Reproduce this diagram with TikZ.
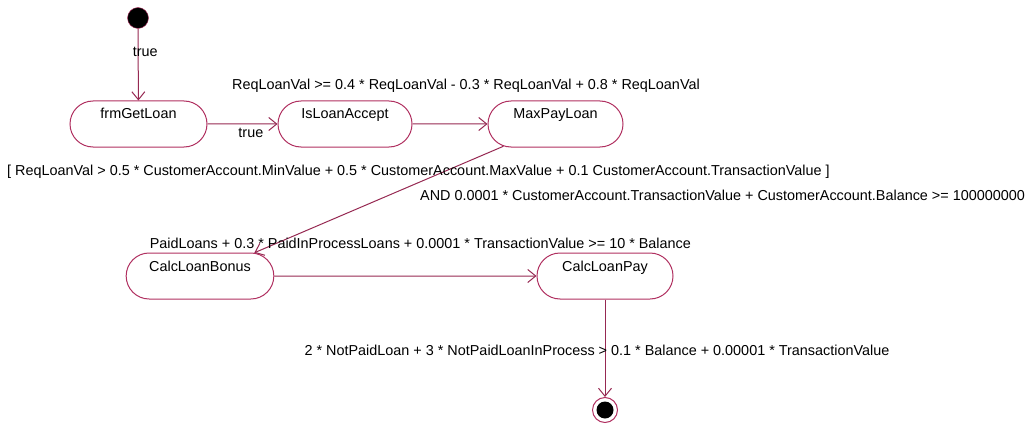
\documentclass[tikz,border=0pt]{standalone}
\usepackage{fontspec}
\setmainfont{Liberation Sans}
\usetikzlibrary{arrows.meta,shapes.misc}

\definecolor{umlred}{RGB}{176,48,96}

\begin{document}
\begin{tikzpicture}[x=1pt,y=-1pt,font=\fontsize{14.4}{16}\selectfont,
  state/.style={rounded rectangle,draw=umlred,line width=1pt,minimum width=#1,minimum height=46pt,inner sep=0pt,text height=18pt,text depth=28pt},
  flow/.style={draw=umlred!85!black,line width=1pt,-{Straight Barb[length=8pt,width=13pt]}},
  guard/.style={inner sep=0pt}]

  \useasboundingbox (0,0) rectangle (1027,425);

  % start and end points
  \node(init)[circle,draw=umlred,fill=black,minimum size=21pt,inner sep=0pt] at (138,18) {};
  \node(final)[circle,draw=umlred,line width=1pt,minimum size=25pt,inner sep=0pt,
    path picture={\fill[black] (path picture bounding box.center) circle (8.5pt);}] at (605,410) {};

  % activity states
  \node(getloan)[state=137pt] at (138.5,124) {frmGetLoan};
  \node(accept) [state=134pt] at (345,124)   {IsLoanAccept};
  \node(maxpay) [state=135pt] at (555.5,124) {MaxPayLoan};
  \node(bonus)  [state=130pt] at (200,276)   {CalcLoanBonus};
  \node(pay)    [state=136pt] at (605,276)   {CalcLoanPay};

  % transitions
  \draw[flow] (init) -- node[pos=.33,xshift=7pt]{true} (getloan);
  \draw[flow] (getloan) -- node[below,pos=.62]{true} (accept);
  \draw[flow] (accept) -- node[above=28pt,xshift=16pt]{ReqLoanVal >= 0.4 * ReqLoanVal - 0.3 * ReqLoanVal + 0.8 * ReqLoanVal} (maxpay);
  \draw[flow] (maxpay) -- (bonus);
  \draw[flow] (bonus) -- node[above=24pt,xshift=15pt]{PaidLoans + 0.3 * PaidInProcessLoans + 0.0001 * TransactionValue >= 10 * Balance} (pay);
  \draw[flow] (pay) -- node[pos=.52,xshift=-8pt]{2 * NotPaidLoan + 3 * NotPaidLoanInProcess > 0.1 * Balance + 0.00001 * TransactionValue} (final);

  % guard of the diagonal transition
  \node(guardA)[guard,anchor=west] at (7,172) {[ ReqLoanVal > 0.5 * CustomerAccount.MinValue + 0.5 * CustomerAccount.MaxValue + 0.1 CustomerAccount.TransactionValue ]};
  \node(guardB)[guard,anchor=west] at (420,195) {AND 0.0001 * CustomerAccount.TransactionValue + CustomerAccount.Balance >= 100000000};
\end{tikzpicture}
\end{document}
